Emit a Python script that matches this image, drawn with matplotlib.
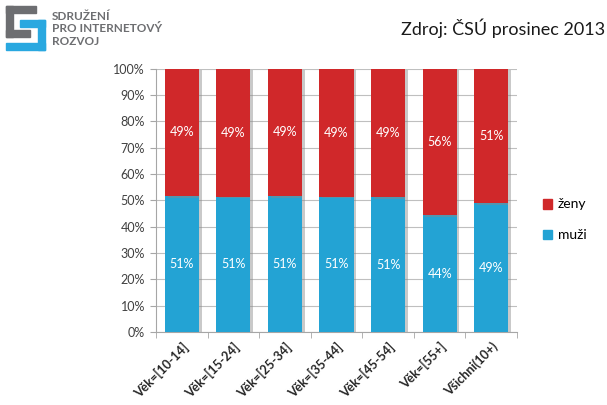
import matplotlib.pyplot as plt
import matplotlib.patheffects as pe
from matplotlib.patches import Rectangle, Patch

categories = ['Věk=[10-14]', 'Věk=[15-24]', 'Věk=[25-34]', 'Věk=[35-44]',
              'Věk=[45-54]', 'Věk=[55+]', 'Všichni(10+)']
muzi = [51.5, 51.3, 51.5, 51.4, 51.1, 44.3, 48.8]
zeny = [100 - m for m in muzi]
muzi_labels = ['51%', '51%', '51%', '51%', '51%', '44%', '49%']
zeny_labels = ['49%', '49%', '49%', '49%', '49%', '56%', '51%']

BLUE = '#23A3D4'
RED = '#D0282A'

plt.rcParams['font.family'] = ['Lato', 'DejaVu Sans']

fig = plt.figure(figsize=(6.07, 4.05), dpi=100)
ax = fig.add_axes([156 / 607, 1 - 332 / 405, 361 / 607, 263.5 / 405])

x = range(len(categories))
shadow = [pe.SimplePatchShadow(offset=(2, -1), shadow_rgbFace='#888888', alpha=0.45), pe.Normal()]
b1 = ax.bar(x, muzi, width=0.66, color=BLUE, zorder=3, path_effects=shadow)
b2 = ax.bar(x, zeny, bottom=muzi, width=0.66, color=RED, zorder=3, path_effects=shadow)

for i in x:
    ax.text(i, muzi[i] / 2, muzi_labels[i], ha='center', va='center',
            color='white', fontsize=9, zorder=4)
    ax.text(i, muzi[i] + zeny[i] / 2, zeny_labels[i], ha='center', va='center',
            color='white', fontsize=9, zorder=4)

ax.set_xlim(-0.5, len(categories) - 0.5)
ax.set_ylim(0, 100)
ax.set_yticks(range(0, 101, 10))
ax.set_yticklabels([f'{v}%' for v in range(0, 101, 10)], color='#404040', fontsize=9)
ax.yaxis.grid(True, color='#BFBFBF', linewidth=0.8, zorder=0)
ax.set_axisbelow(True)

ax.set_xticks(list(x))
ax.set_xticklabels(categories, rotation=45, ha='right', rotation_mode='anchor',
                   fontsize=9, fontweight='bold', color='#262626')
ax.tick_params(axis='x', length=0, pad=6)
ax.set_xticks([i + 0.5 for i in range(-1, len(categories))], minor=True)
ax.tick_params(axis='x', which='minor', length=4, color='#A6A6A6')
ax.tick_params(axis='y', length=4, color='#A6A6A6', pad=4)

for s in ['top', 'right']:
    ax.spines[s].set_visible(False)
for s in ['left', 'bottom']:
    ax.spines[s].set_color('#A6A6A6')

handles = [Patch(color=RED, label='ženy'), Patch(color=BLUE, label='muži')]
fig.legend(handles=handles, loc='upper left', bbox_to_anchor=(530 / 607, 1 - 186 / 405),
           frameon=False, labelspacing=1.35, handlelength=0.7, handleheight=0.7,
           handletextpad=0.4, fontsize=10)

fig.text(605 / 607, 1 - 28 / 405, 'Zdroj: ČSÚ prosinec 2013', ha='right', va='center',
         fontsize=13, color='#1a1a1a')

# logo
def logo_rect(x0, y0, w, h, c):
    fig.patches.append(Rectangle((x0 / 607, 1 - (y0 + h) / 405), w / 607, h / 405,
                                 transform=fig.transFigure, color=c, figure=fig))

GRAY = '#6D6E71'
LBLUE = '#29A8E0'
logo_rect(6, 6, 30, 7, GRAY)
logo_rect(6, 6, 7, 31, GRAY)
logo_rect(6, 30, 24, 7, GRAY)
logo_rect(20, 20, 25, 7, LBLUE)
logo_rect(38, 20, 7, 30, LBLUE)
logo_rect(6, 43, 39, 7, LBLUE)

fig.text(52 / 607, 1 - 29 / 405, 'SDRUŽENÍ\nPRO INTERNETOVÝ\nROZVOJ', ha='left', va='center',
         fontsize=8.5, fontweight='bold', color='#6D6E71', linespacing=1.15)

fig.savefig('out.png', dpi=100)
